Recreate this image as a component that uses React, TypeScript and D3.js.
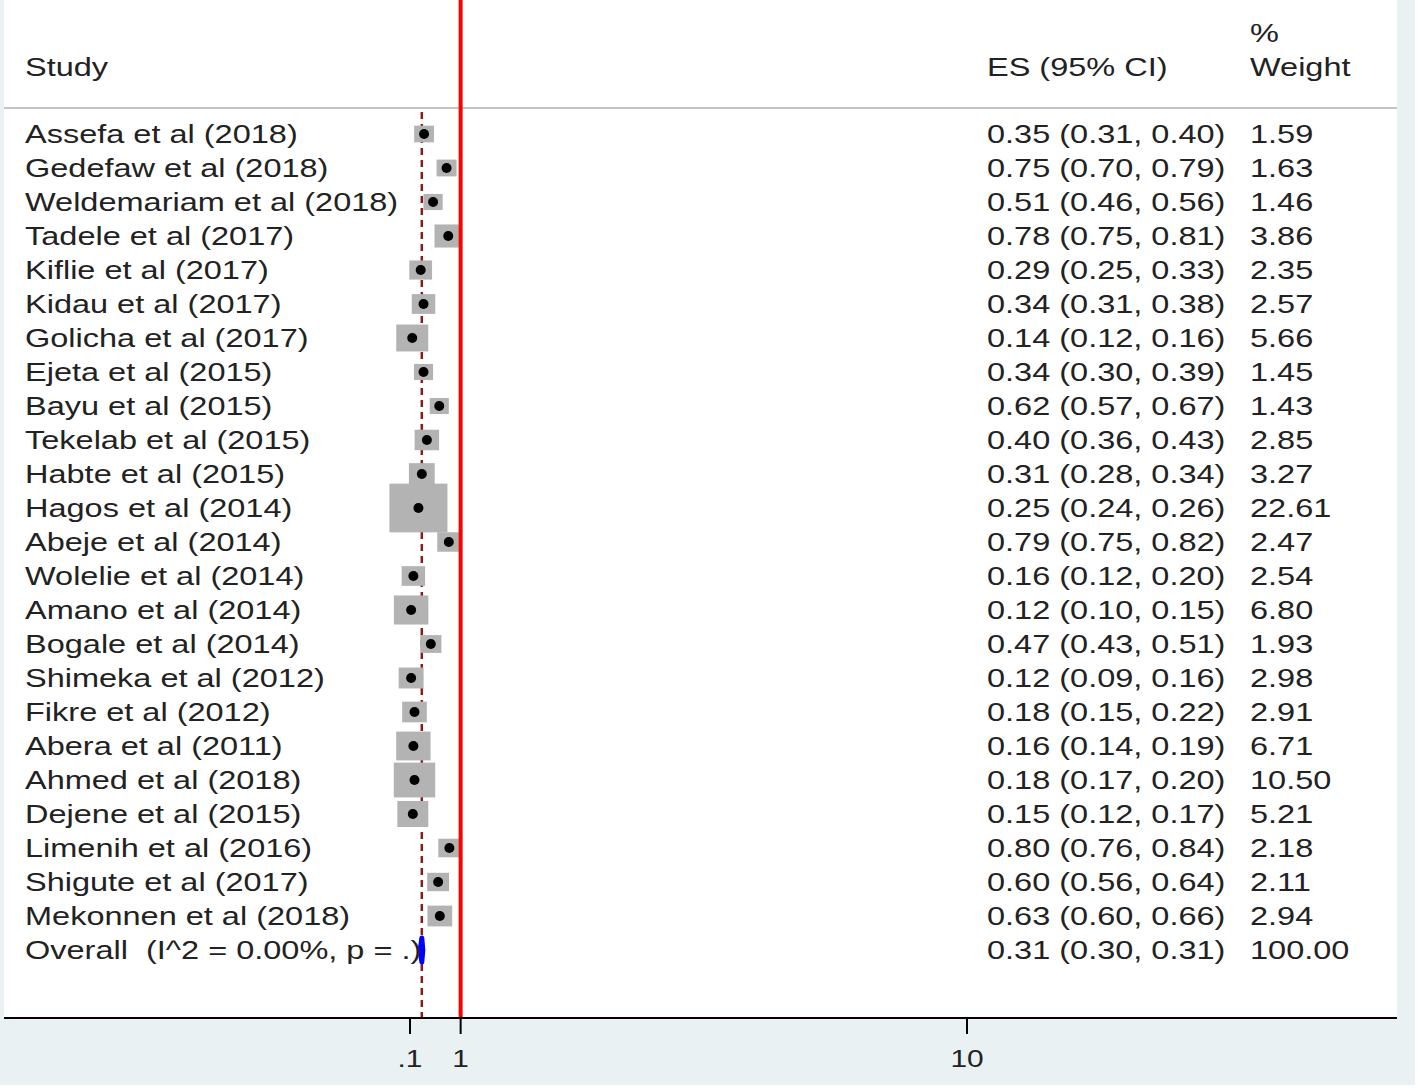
import React from 'react';
import * as d3 from 'd3';

const studies = [
  'Assefa et al (2018)', 'Gedefaw et al (2018)', 'Weldemariam et al (2018)', 'Tadele et al (2017)',
  'Kiflie et al (2017)', 'Kidau et al (2017)', 'Golicha et al (2017)', 'Ejeta et al (2015)',
  'Bayu et al (2015)', 'Tekelab et al (2015)', 'Habte et al (2015)', 'Hagos et al (2014)',
  'Abeje et al (2014)', 'Wolelie et al (2014)', 'Amano et al (2014)', 'Bogale et al (2014)',
  'Shimeka et al (2012)', 'Fikre et al (2012)', 'Abera et al (2011)', 'Ahmed et al (2018)',
  'Dejene et al (2015)', 'Limenih et al (2016)', 'Shigute et al (2017)', 'Mekonnen et al (2018)',
];
const es = [0.35, 0.75, 0.51, 0.78, 0.29, 0.34, 0.14, 0.34, 0.62, 0.40, 0.31, 0.25, 0.79, 0.16, 0.12, 0.47, 0.12, 0.18, 0.16, 0.18, 0.15, 0.80, 0.60, 0.63];
const lo = [0.31, 0.70, 0.46, 0.75, 0.25, 0.31, 0.12, 0.30, 0.57, 0.36, 0.28, 0.24, 0.75, 0.12, 0.10, 0.43, 0.09, 0.15, 0.14, 0.17, 0.12, 0.76, 0.56, 0.60];
const hi = [0.40, 0.79, 0.56, 0.81, 0.33, 0.38, 0.16, 0.39, 0.67, 0.43, 0.34, 0.26, 0.82, 0.20, 0.15, 0.51, 0.16, 0.22, 0.19, 0.20, 0.17, 0.84, 0.64, 0.66];
const weights = [1.59, 1.63, 1.46, 3.86, 2.35, 2.57, 5.66, 1.45, 1.43, 2.85, 3.27, 22.61, 2.47, 2.54, 6.80, 1.93, 2.98, 2.91, 6.71, 10.50, 5.21, 2.18, 2.11, 2.94];
const overall = { label: 'Overall  (I^2 = 0.00%, p = .)', es: 0.31, lo: 0.30, hi: 0.31, weight: 100 };
const ticks = [0.1, 1, 10];
const tickLabels = ['.1', '1', '10'];

const W = 1418;
const H = 1089;
const FONT = '"Liberation Sans", Arial, sans-serif';
const SX = 1.3; // text looks horizontally stretched in the original

const fmt = d3.format('.2f');

const StretchText = ({ x, y, size, children, anchor = 'start' }: any) => (
  <text
    transform={`translate(${x},${y}) scale(${SX},1)`}
    fontSize={size}
    fontFamily={FONT}
    fill="#222"
    textAnchor={anchor}
    style={{ whiteSpace: 'pre' }}
  >
    {children}
  </text>
);

export default function App() {
  const plotLeft = 4;
  const plotRight = 1397;
  const axisY = 1018;

  const x = d3.scaleLinear().domain([0.1, 10]).range([410, 967]);
  const y = d3.scaleLinear().domain([0, studies.length]).range([134, 134 + 34 * studies.length]);
  const box = d3.scaleSqrt().domain([0, d3.max(weights) as number]).range([0, 52]);

  const oy = y(studies.length);
  const diamond = `M${x(overall.lo) - 1},${oy} L${x(overall.es)},${oy - 12} L${x(overall.hi) + 1},${oy} L${x(overall.es)},${oy + 12} Z`;

  return (
    <svg width={W} height={H} style={{ position: 'absolute', left: 0, top: 0, display: 'block' }}>
      <rect x={0} y={0} width={W} height={H} fill="#ffffff" />
      <rect x={0} y={0} width={1415} height={1085} fill="#e9f1f2" />
      <rect x={plotLeft} y={0} width={plotRight - plotLeft} height={axisY} fill="#ffffff" />

      {/* header */}
      <StretchText x={25} y={76} size={25}>Study</StretchText>
      <StretchText x={987} y={76} size={25}>ES (95% CI)</StretchText>
      <StretchText x={1250} y={42} size={25}>%</StretchText>
      <StretchText x={1250} y={76} size={25}>Weight</StretchText>
      <line x1={plotLeft} x2={plotRight} y1={108} y2={108} stroke="#c4c4c4" strokeWidth={2} />

      {/* overall dashed line */}
      <line x1={x(overall.es)} x2={x(overall.es)} y1={112} y2={axisY} stroke="#8b1a1a" strokeWidth={2.5} strokeDasharray="7,5" />

      {/* study rows */}
      {studies.map((s, i) => {
        const cy = y(i);
        const bw = 6 + box(weights[i]);
        const bh = bw / 1.19;
        return (
          <g key={s}>
            <rect x={x(es[i]) - bw / 2} y={cy - bh / 2} width={bw} height={bh} fill="#b3b3b3" />
            <line x1={x(lo[i])} x2={x(hi[i])} y1={cy} y2={cy} stroke="#000" strokeWidth={2} />
            <circle cx={x(es[i])} cy={cy} r={5} fill="#000" />
            <StretchText x={25} y={cy + 9} size={25}>{s}</StretchText>
            <StretchText x={987} y={cy + 9} size={25}>{`${fmt(es[i])} (${fmt(lo[i])}, ${fmt(hi[i])})`}</StretchText>
            <StretchText x={1250} y={cy + 9} size={25}>{fmt(weights[i])}</StretchText>
          </g>
        );
      })}

      {/* overall */}
      <path d={diamond} fill="#0000ff" stroke="#0000ff" strokeWidth={5} strokeLinejoin="round" />
      <StretchText x={25} y={oy + 9} size={25}>{overall.label}</StretchText>
      <StretchText x={987} y={oy + 9} size={25}>{`${fmt(overall.es)} (${fmt(overall.lo)}, ${fmt(overall.hi)})`}</StretchText>
      <StretchText x={1250} y={oy + 9} size={25}>{fmt(overall.weight)}</StretchText>

      {/* null line */}
      <line x1={x(1)} x2={x(1)} y1={0} y2={axisY} stroke="#ff0000" strokeWidth={4} />

      {/* axis */}
      <line x1={plotLeft} x2={plotRight} y1={axisY} y2={axisY} stroke="#000" strokeWidth={2} />
      {ticks.map((t, i) => (
        <g key={t}>
          <line x1={x(t)} x2={x(t)} y1={axisY} y2={axisY + 16} stroke="#000" strokeWidth={2} />
          <StretchText x={x(t)} y={1067} size={23} anchor="middle">{tickLabels[i]}</StretchText>
        </g>
      ))}
    </svg>
  );
}
